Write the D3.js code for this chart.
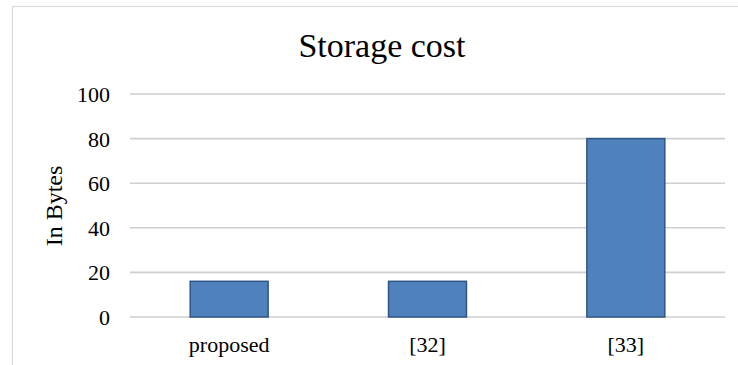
<!DOCTYPE html>
<html><head><meta charset="utf-8">
<script src="https://cdn.jsdelivr.net/npm/d3@7"></script>
<style>html,body{margin:0;padding:0;background:#fff;overflow:hidden}</style>
</head><body>
<svg id="chart" width="738" height="365"></svg>
<script>
const categories = ["proposed", "[32]", "[33]"];
const values = [16, 16, 80];
const yTicks = [0, 20, 40, 60, 80, 100];
const titleText = "Storage cost";
const yTitle = "In Bytes";

const svg = d3.select("#chart");
const font = "'Liberation Serif','Times New Roman',serif";

// chart area border
svg.append("rect").attr("x", 12.5).attr("y", 6.5).attr("width", 760).attr("height", 400)
  .attr("fill", "#fff").attr("stroke", "#d9d9d9").attr("stroke-width", 1.2);

const x = d3.scaleBand().domain(categories).range([130, 725]).paddingInner(0.607).paddingOuter(0.3035);
const y = d3.scaleLinear().domain([0, 100]).range([317, 94]);

// gridlines
svg.append("g").selectAll("line").data(yTicks).join("line")
  .attr("x1", 130).attr("x2", 725)
  .attr("y1", d => y(d)).attr("y2", d => y(d))
  .attr("stroke", "#cfcfcf").attr("stroke-width", 1.6);

// y axis labels
const yAxis = d3.axisLeft(y).tickValues(yTicks).tickSize(0).tickPadding(0);
const yg = svg.append("g").attr("transform", "translate(110,0)").call(yAxis);
yg.select(".domain").remove();
yg.selectAll("text").attr("font-family", font).attr("font-size", 22).attr("fill", "#000").attr("dy", "0.34em");

// bars
svg.append("g").selectAll("rect").data(values).join("rect")
  .attr("x", (d, i) => x(categories[i]))
  .attr("y", d => y(d))
  .attr("width", x.bandwidth())
  .attr("height", d => y(0) - y(d))
  .attr("fill", "#4f81bd").attr("stroke", "#2f5686").attr("stroke-width", 1.5);

// x axis labels
const xAxis = d3.axisBottom(x).tickSize(0).tickPadding(0);
const xg = svg.append("g").attr("transform", "translate(0,336)").call(xAxis);
xg.select(".domain").remove();
xg.selectAll("text").attr("font-family", font).attr("font-size", 22).attr("fill", "#000").attr("dy", "0.72em");

// title
svg.append("text").attr("x", 382).attr("y", 57).attr("text-anchor", "middle")
  .attr("font-family", font).attr("font-size", 34).attr("fill", "#000").text(titleText);

// y title
svg.append("text").attr("transform", "translate(62,206) rotate(-90)").attr("text-anchor", "middle")
  .attr("font-family", font).attr("font-size", 24).attr("fill", "#000").text(yTitle);
</script>
</body></html>
